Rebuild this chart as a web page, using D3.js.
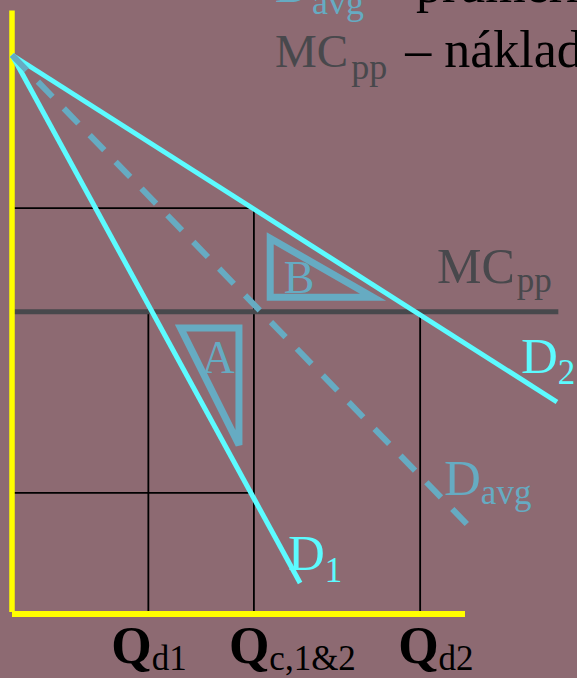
<!DOCTYPE html>
<html><head><meta charset="utf-8">
<script src="https://cdn.jsdelivr.net/npm/d3@7"></script>
<style>html,body{margin:0;padding:0;background:#8D6A72;overflow:hidden}</style>
</head><body><svg id="c" width="577" height="678"></svg>
<script>
// ---- data (quantity / price units) ----
const demandNames = ["D1", "D2", "Davg"];
const demandStartQ = [0, 0, 0];
const demandStartP = [100, 100, 100];
const demandEndQ = [63.6, 120.3, 100.4];
const demandEndP = [5.2, 37.7, 15.8];
const mcPrice = 53.9;
const mcEndQ = 120.6;
const priceHigh = 72.5;
const priceLow = 21.4;
const qTickNames = ["d1", "c,1&2", "d2"];
const qTickValues = [30.1, 53.4, 90.1];
const areaNames = ["A", "B"];
const areaQ = [[37.2, 50.1, 50.1], [57.0, 57.0, 79.7]];
const areaP = [[51.0, 51.0, 30.0], [67.1, 56.5, 56.5]];
const areaLabelQ = [45.5, 63.4];
const areaLabelP = [42.9, 57.3];
const axisMaxQ = 100, axisMaxP = 108;
const legendMain = ["D", "MC"];
const legendSub = ["avg", "pp"];
const legendText = [" – průměrná poptávka", " – náklady"];

// ---- styles ----
const CYAN = "#5CFBFF", BLUEG = "#66ABC2", GRAY = "#48484C", YEL = "#FFFF00";
const SERIF = "'Liberation Serif','Times New Roman',serif";

const svg = d3.select("#c");
const x = d3.scaleLinear().domain([0, 100]).range([12, 465]);
const y = d3.scaleLinear().domain([0, 100]).range([612, 55]);
const line = d3.line().x(d => x(d[0])).y(d => y(d[1]));

// black guide lines
const guides = [
  [[0, priceHigh], [qTickValues[1], priceHigh]],
  [[0, priceLow], [qTickValues[1], priceLow]],
  [[qTickValues[0], mcPrice], [qTickValues[0], 0]],
  [[qTickValues[1], priceHigh], [qTickValues[1], 0]],
  [[qTickValues[2], mcPrice], [qTickValues[2], 0]]
];
svg.selectAll("path.guide").data(guides).enter().append("path")
  .attr("class", "guide").attr("d", line)
  .attr("stroke", "#000").attr("stroke-width", 1.8).attr("fill", "none");

// MC line
svg.append("path").attr("d", line([[0, mcPrice], [mcEndQ, mcPrice]]))
  .attr("stroke", GRAY).attr("stroke-width", 5).attr("fill", "none");

// yellow axes
svg.append("path").attr("d", line([[0, axisMaxP], [0, 0]]))
  .attr("stroke", YEL).attr("stroke-width", 5.5).attr("fill", "none");
svg.append("path").attr("d", line([[0, 0], [axisMaxQ, 0]]))
  .attr("transform", "translate(0,2)")
  .attr("stroke", YEL).attr("stroke-width", 6).attr("fill", "none");

// triangles A, B
areaNames.forEach((n, i) => {
  const pts = areaQ[i].map((q, j) => [q, areaP[i][j]]);
  svg.append("path").attr("d", line(pts) + "Z")
    .attr("stroke", BLUEG).attr("stroke-width", 7).attr("fill", "none")
    .attr("stroke-linejoin", "miter");
  svg.append("text").attr("x", x(areaLabelQ[i])).attr("y", y(areaLabelP[i]))
    .attr("text-anchor", "middle").attr("font-family", SERIF).attr("font-size", 46)
    .attr("fill", BLUEG).text(n);
});

// demand lines
demandNames.forEach((n, i) => {
  const p = svg.append("path")
    .attr("d", line([[demandStartQ[i], demandStartP[i]], [demandEndQ[i], demandEndP[i]]]))
    .attr("fill", "none");
  if (n === "Davg") p.attr("stroke", BLUEG).attr("stroke-width", 6).attr("stroke-dasharray", "21,16.2");
  else p.attr("stroke", CYAN).attr("stroke-width", 5);
});

// subscript label helper
function label(px, py, main, sub, color, size, subSize, drop, weightMain, gap) {
  const t = svg.append("text").attr("x", px).attr("y", py)
    .attr("font-family", SERIF).attr("fill", color);
  t.append("tspan").attr("font-size", size).attr("font-weight", weightMain || "normal").text(main);
  t.append("tspan").attr("font-size", subSize).attr("dy", drop).attr("dx", gap || 0).text(sub);
  return t;
}

// curve labels
label(288, 570, "D", "1", CYAN, 51, 35, 12);
label(521, 373, "D", "2", CYAN, 51, 35, 11);
label(444, 495, "D", "avg", BLUEG, 51, 35, 9);
label(437, 283, "MC", "pp", GRAY, 50, 35, 9, "normal", 2);

// axis labels
const qOffsets = [-37, -25, -22];
qTickValues.forEach((q, i) => {
  label(x(q) + qOffsets[i], 663, "Q", qTickNames[i], "#000", 52, 35, 7, "bold");
});

// top legend text
[0, 1].forEach(i => {
  const t = svg.append("text").attr("x", 275).attr("y", i === 0 ? 2 : 67)
    .attr("font-family", SERIF);
  t.append("tspan").attr("font-size", 47).attr("fill", i === 0 ? BLUEG : GRAY).text(legendMain[i]);
  t.append("tspan").attr("font-size", 36).attr("dy", 12).attr("dx", 3)
    .attr("fill", i === 0 ? BLUEG : GRAY).text(legendSub[i]);
  t.append("tspan").attr("font-size", 52).attr("dy", -12).attr("dx", i === 0 ? 0 : 5)
    .attr("fill", "#000").text(legendText[i]);
});
</script>
</body></html>
